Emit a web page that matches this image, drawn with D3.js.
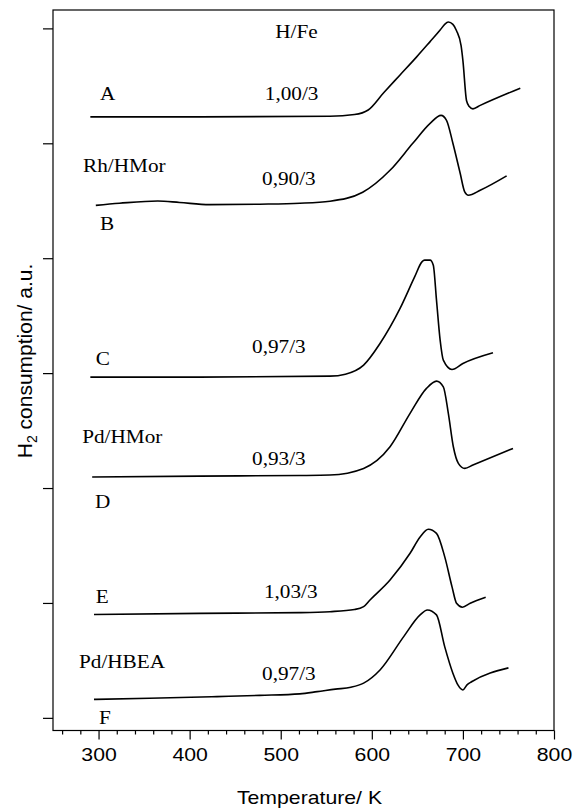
<!DOCTYPE html>
<html>

<head>
    <meta charset="utf-8">
    <title>TPR profiles</title>
    <script src="https://cdn.jsdelivr.net/npm/d3@7"></script>
    <style>
        body {
            margin: 0;
            background: #fff;
        }

        .tick-label {
            font-family: "Liberation Sans", Arial, sans-serif;
            font-size: 18px;
        }

        .note {
            font-family: "Liberation Serif", "Times New Roman", serif;
            font-size: 18px;
        }
    </style>
</head>

<body>
    <script>
        // Temperature (K) / H2 consumption (a.u.), one array per trace
        const curveA = [[291, 5.23], [411, 5.23], [554, 5.235], [581, 5.25], [596, 5.29], [613, 5.44], [631, 5.595],
            [649, 5.75], [664, 5.885], [675, 5.985], [680, 6.035], [684, 6.055], [689, 6.035], [693, 5.98],
            [698, 5.85], [700, 5.72], [704, 5.37], [707, 5.32], [711, 5.30], [719, 5.33], [763, 5.48]];
        const curveB = [[297, 4.46], [323, 4.478], [365, 4.498], [389, 4.485], [422, 4.466], [477, 4.47], [521, 4.478],
            [554, 4.496], [590, 4.574], [620, 4.765], [645, 5.0], [664, 5.174], [676, 5.243], [682, 5.2],
            [689, 5.0], [697, 4.739], [702, 4.577], [706, 4.548], [719, 4.591], [748, 4.716]];
        const curveC = [[291, 2.965], [411, 2.965], [554, 2.974], [571, 2.991], [591, 3.07], [609, 3.258], [631, 3.563],
            [647, 3.837], [655, 3.968], [658, 3.983], [664, 3.983], [667.5, 3.939], [671, 3.635], [675, 3.287],
            [678.5, 3.113], [688, 3.032], [700, 3.084], [733, 3.177]];
        const curveD = [[293, 2.096], [411, 2.104], [521, 2.109], [554, 2.113], [591, 2.171], [620, 2.359], [642, 2.65],
            [660, 2.867], [671, 2.93], [678.5, 2.881], [684, 2.65], [689.5, 2.359], [695, 2.215], [702, 2.171],
            [711, 2.2], [755, 2.345]];
        const curveE = [[295, 0.9], [411, 0.909], [521, 0.916], [554, 0.924], [581, 0.943], [591, 0.968], [598, 1.026],
            [620, 1.2], [642, 1.432], [653, 1.574], [662, 1.641], [671, 1.606], [680, 1.403], [688, 1.142],
            [693, 0.997], [699.5, 0.963], [708, 0.997], [725, 1.05]];
        const curveF = [[295, 0.161], [356, 0.17], [430, 0.185], [477, 0.196], [521, 0.209], [540, 0.228], [560, 0.25],
            [577, 0.266], [591, 0.302], [609, 0.417], [635, 0.707], [653, 0.896], [661, 0.939], [671, 0.896],
            [680, 0.62], [689, 0.389], [694.5, 0.287], [700, 0.243], [704.5, 0.287], [710, 0.316], [750, 0.435]];

        const curves = [curveA, curveB, curveC, curveD, curveE, curveF];

        // Axis ticks
        const xMajorTicks = [300, 400, 500, 600, 700, 800];
        const xMinorTicks = d3.range(260, 800, 20).filter(t => t % 100 !== 0);
        const yTicks = [0, 1, 2, 3, 4, 5, 6];

        // Text written inside the plot, placed in data units
        const notes = [
            ['H/Fe', 494, 5.913],
            ['A', 301.5, 5.374], ['1,00/3', 482.5, 5.374],
            ['Rh/HMor', 283, 4.748], ['0,90/3', 479.5, 4.635], ['B', 301.5, 4.243],
            ['C', 297, 3.07], ['0,97/3', 468.5, 3.174],
            ['Pd/HMor', 282, 2.391], ['0,93/3', 468.5, 2.2], ['D', 296, 1.826],
            ['E', 297, 1.0], ['1,03/3', 481.5, 1.043],
            ['Pd/HBEA', 278.5, 0.435], ['0,97/3', 479.5, 0.33], ['F', 300.5, -0.052]
        ];

        const width = 575;
        const height = 811;
        const margin = { top: 10, right: 21, bottom: 80.5, left: 53 };
        const stretch = 1.18; // glyphs in the picture are a bit wider than tall

        const svg = d3.select('body')
            .append('svg')
            .attr('width', width)
            .attr('height', height);

        const xScale = d3.scaleLinear()
            .domain([250, 800])
            .range([margin.left, width - margin.right]);

        const yScale = d3.scaleLinear()
            .domain([-0.11, 6.16])
            .range([height - margin.bottom, margin.top]);

        // Frame
        svg.append('rect')
            .attr('x', margin.left)
            .attr('y', margin.top)
            .attr('width', width - margin.right - margin.left)
            .attr('height', height - margin.bottom - margin.top)
            .attr('fill', 'none')
            .attr('stroke', 'black')
            .attr('stroke-width', 1.2);

        // Minor x ticks
        svg.append('g')
            .attr('transform', `translate(0, ${height - margin.bottom})`)
            .call(d3.axisBottom(xScale).tickValues(xMinorTicks).tickSize(4).tickFormat(''))
            .call(g => g.select('.domain').remove());

        // Major x ticks with labels
        svg.append('g')
            .attr('transform', `translate(0, ${height - margin.bottom})`)
            .call(d3.axisBottom(xScale).tickValues(xMajorTicks).tickSize(9).tickPadding(9))
            .call(g => g.select('.domain').remove())
            .call(g => g.selectAll('text')
                .attr('class', 'tick-label')
                .attr('fill', 'black')
                .attr('transform', `scale(${stretch}, 1)`));

        // Y ticks, no labels
        svg.append('g')
            .attr('transform', `translate(${margin.left}, 0)`)
            .call(d3.axisLeft(yScale).tickValues(yTicks).tickSize(10).tickFormat(''))
            .call(g => g.select('.domain').remove());

        svg.selectAll('.tick line').attr('stroke', 'black').attr('stroke-width', 1.2);

        // Traces
        const line = d3.line()
            .x(d => xScale(d[0]))
            .y(d => yScale(d[1]))
            .curve(d3.curveMonotoneX);

        svg.selectAll('.trace')
            .data(curves)
            .enter()
            .append('path')
            .attr('class', 'trace')
            .attr('d', line)
            .attr('fill', 'none')
            .attr('stroke', 'black')
            .attr('stroke-width', 1.6)
            .attr('stroke-linejoin', 'round');

        // Annotations
        svg.selectAll('.note')
            .data(notes)
            .enter()
            .append('text')
            .attr('class', 'note')
            .attr('transform', d => `translate(${xScale(d[1])}, ${yScale(d[2])}) scale(${stretch}, 1)`)
            .text(d => d[0]);

        // Axis titles
        svg.append('text')
            .attr('class', 'tick-label')
            .attr('text-anchor', 'middle')
            .attr('transform', `translate(${(margin.left + width - margin.right) / 2 + 6}, 804) scale(${stretch}, 1)`)
            .text('Temperature/ K');

        const yTitle = svg.append('text')
            .attr('class', 'tick-label')
            .attr('text-anchor', 'middle')
            .attr('transform', 'translate(31.5, 361) rotate(-90)')
            .style('font-size', '21px');
        yTitle.append('tspan').text('H');
        yTitle.append('tspan').attr('dy', 5).style('font-size', '14px').text('2');
        yTitle.append('tspan').attr('dy', -5).text(' consumption/ a.u.');
    </script>
</body>

</html>
